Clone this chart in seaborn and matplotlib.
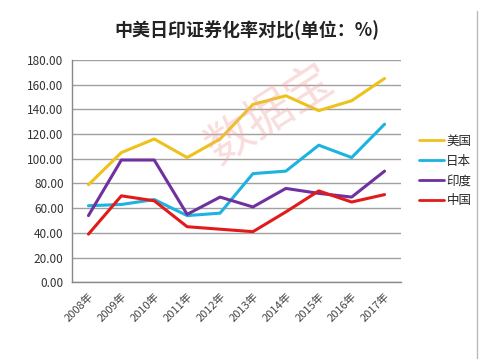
import pandas as pd
import matplotlib

matplotlib.use('Agg')
import matplotlib.pyplot as plt
import seaborn as sns
from matplotlib.lines import Line2D

years = ['2008年', '2009年', '2010年', '2011年', '2012年',
         '2013年', '2014年', '2015年', '2016年', '2017年']
usa = [79, 105, 116, 101, 116, 144, 151, 139, 147, 165]
japan = [62, 63, 67, 54, 56, 88, 90, 111, 101, 128]
india = [54, 99, 99, 55, 69, 61, 76, 72, 69, 90]
china = [39, 70, 66, 45, 43, 41, 57, 74, 65, 71]
countries = ['美国', '日本', '印度', '中国']
colors = ['#EEC21B', '#1CB3E0', '#7030A0', '#E21A1A']

df = pd.DataFrame({'美国': usa, '日本': japan, '印度': india, '中国': china})
df['year'] = range(len(years))
long_df = df.melt(id_vars='year', var_name='country', value_name='value')

sns.set_style('white')
plt.rcParams['font.family'] = ['Noto Sans CJK SC', 'DejaVu Sans']

fig = plt.figure(figsize=(5, 3.59), dpi=100)
ax = fig.add_axes([0.144, 0.2136, 0.658, 0.6194])

sns.lineplot(data=long_df, x='year', y='value', hue='country',
             hue_order=countries, palette=colors, linewidth=2.2, ax=ax)

ax.set_xlim(-0.5, len(years) - 0.5)
ax.set_ylim(0, 180)
ax.set_yticks(range(0, 181, 20))
ax.set_yticklabels([f'{v:.2f}' for v in range(0, 181, 20)], fontsize=8.5, color='#333333')
ax.yaxis.grid(True, color='#A0A0A0', linewidth=1)
ax.set_axisbelow(True)

ax.set_xticks(range(len(years)))
ax.set_xticklabels(years, rotation=45, ha='right', rotation_mode='anchor',
                   fontsize=8, color='#444444')
ax.tick_params(axis='x', which='major', length=0, pad=6)
ax.set_xticks([i - 0.5 for i in range(len(years) + 1)], minor=True)
ax.tick_params(axis='x', which='minor', length=4, color='#888888', width=1)
ax.tick_params(axis='y', length=4, color='#888888', width=1, pad=2)
ax.set_xlabel('')
ax.set_ylabel('')

for side in ['top', 'right']:
    ax.spines[side].set_visible(False)
for side in ['left', 'bottom']:
    ax.spines[side].set_color('#888888')
    ax.spines[side].set_linewidth(1)

ax.legend(handles=[Line2D([], [], color=c, linewidth=2) for c in colors],
          labels=countries, loc='center left', bbox_to_anchor=(1.02, 0.5),
          frameon=False, fontsize=9, handlelength=2.0, handletextpad=0.2,
          labelspacing=0.55)

fig.text(0.494, 0.915, '中美日印证券化率对比(单位：%)', ha='center', va='center',
         fontsize=13, fontweight='bold', color='#222222')

# watermark
fig.text(0.54, 0.68, '数据宝', ha='center', va='center', fontsize=34,
         rotation=33, color='#F0A8A8', alpha=0.4)

fig.add_artist(Line2D([0.953, 0.953], [0.0, 0.97], color='#BBBBBB', linewidth=1))

fig.savefig('out.png', dpi=100, facecolor='white')
